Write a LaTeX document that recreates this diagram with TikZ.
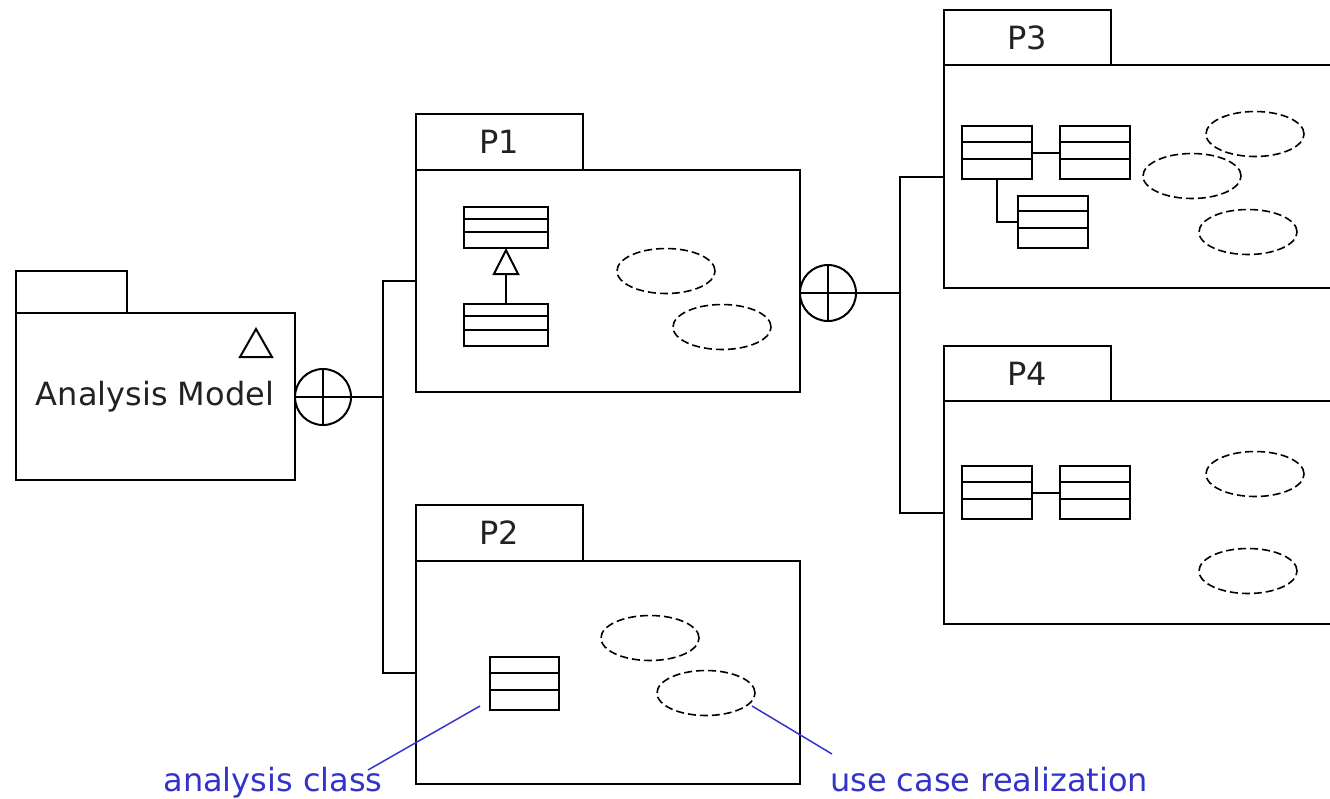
\documentclass[tikz,border=0pt]{standalone}
\usepackage{fontspec}
\setmainfont{DejaVu Sans}
\usetikzlibrary{shapes.geometric,arrows.meta,calc}
\definecolor{ink}{HTML}{222222}
\definecolor{note}{HTML}{3333CC}
\tikzset{
  pkgbody/.style={draw, line width=2pt, inner sep=0pt, outer sep=0pt, anchor=north west},
  pkgtab/.style={draw, line width=2pt, inner sep=0pt, outer sep=0pt, anchor=south west,
    minimum width=167pt, minimum height=56pt, text=ink, font=\fontsize{32}{38}\selectfont},
  clsbox/.style={draw, line width=2pt, inner sep=0pt, outer sep=0pt, anchor=north west,
    path picture={
      \draw[line width=2pt]
        ($(path picture bounding box.north west)!0.295!(path picture bounding box.south west)$) --
        ($(path picture bounding box.north east)!0.295!(path picture bounding box.south east)$);
      \draw[line width=2pt]
        ($(path picture bounding box.north west)!0.62!(path picture bounding box.south west)$) --
        ($(path picture bounding box.north east)!0.62!(path picture bounding box.south east)$);
    }},
  ucr/.style={ellipse, draw, dashed, dash pattern=on 8pt off 4pt, line width=1.6pt,
    minimum width=98pt, minimum height=45pt, inner sep=0pt},
  cplus/.style={circle, draw, line width=2pt, minimum size=56pt, inner sep=0pt, outer sep=0pt,
    path picture={
      \draw[line width=2pt] (path picture bounding box.north) -- (path picture bounding box.south);
      \draw[line width=2pt] (path picture bounding box.west) -- (path picture bounding box.east);
    }},
  wire/.style={line width=2pt},
  notewire/.style={draw=note, line width=1.5pt},
  notetext/.style={text=note, font=\fontsize{32}{38}\selectfont, inner sep=0pt, anchor=base}
}
\begin{document}
\begin{tikzpicture}[x=1pt, y=-1pt]
\useasboundingbox (0,0) rectangle (1330,798);
\clip (0,0) rectangle (1330,798);

% Analysis Model package
\node[pkgbody, minimum width=279pt, minimum height=167pt] (am) at (16,313) {};
\node[draw, line width=2pt, inner sep=0pt, outer sep=0pt, anchor=south west,
  minimum width=111pt, minimum height=42pt] (amtab) at (am.north west) {};
\node[text=ink, font=\fontsize{32}{38}\selectfont] (amlabel) at (155,397) {Analysis Model};
\draw[line width=2pt] (240,357) -- (256,329) -- (272,357) -- cycle;

% Packages P1 .. P4
\node[pkgbody, minimum width=384pt, minimum height=222pt] (p1) at (416,170) {};
\node[pkgtab] (p1tab) at (p1.north west) {P1};
\node[pkgbody, minimum width=384pt, minimum height=223pt] (p2) at (416,561) {};
\node[pkgtab] (p2tab) at (p2.north west) {P2};
\node[pkgbody, minimum width=420pt, minimum height=223pt] (p3) at (944,65) {};
\node[pkgtab, minimum height=55pt] (p3tab) at (p3.north west) {P3};
\node[pkgbody, minimum width=420pt, minimum height=223pt] (p4) at (944,401) {};
\node[pkgtab, minimum height=55pt] (p4tab) at (p4.north west) {P4};

% Containment symbols and their wiring
\node[cplus] (cp1) at (323,397) {};
\node[cplus] (cp2) at (828,293) {};
\coordinate (bus1) at (383,397);
\coordinate (bus2) at (900,293);
\draw[wire] (cp1.east) -- (bus1);
\draw[wire] (p1.west) -| (bus1) |- (p2.west);
\draw[wire] (cp2.east) -- (bus2);
\draw[wire] (p3.west) -| (bus2) |- (p4.west);

% P1 contents
\node[clsbox, minimum width=84pt, minimum height=41pt] (c1a) at (464,207) {};
\node[clsbox, minimum width=84pt, minimum height=42pt] (c1b) at (464,304) {};
\draw[wire, -{Triangle[open, length=27pt, width=27pt]}] (c1b.north) -- (c1a.south);
\node[ucr] (u1a) at (666,271) {};
\node[ucr] (u1b) at (722,327) {};

% P2 contents
\node[clsbox, minimum width=69pt, minimum height=53pt] (c2a) at (490,657) {};
\node[ucr] (u2a) at (650,638) {};
\node[ucr] (u2b) at (706,693) {};

% P3 contents
\node[clsbox, minimum width=70pt, minimum height=53pt] (c3a) at (962,126) {};
\node[clsbox, minimum width=70pt, minimum height=53pt] (c3b) at (1060,126) {};
\node[clsbox, minimum width=70pt, minimum height=52pt] (c3c) at (1018,196) {};
\draw[wire] (c3a.east) -- (c3b.west);
\draw[wire] (c3a.south) |- (c3c.west);
\node[ucr] (u3a) at (1255,134) {};
\node[ucr] (u3b) at (1192,176) {};
\node[ucr] (u3c) at (1248,232) {};

% P4 contents
\node[clsbox, minimum width=70pt, minimum height=53pt] (c4a) at (962,466) {};
\node[clsbox, minimum width=70pt, minimum height=53pt] (c4b) at (1060,466) {};
\draw[wire] (c4a.east) -- (c4b.west);
\node[ucr] (u4a) at (1255,474) {};
\node[ucr] (u4b) at (1248,571) {};

% Annotations
\node[notetext] (acl) at (273,791) {analysis class};
\node[notetext] (ucl) at (989,791) {use case realization};
\coordinate (acp) at (480,706);
\coordinate (acq) at (368,770);
\coordinate (ucp) at (752,706);
\coordinate (ucq) at (832,754);
\draw[notewire] (acp) -- (acq);
\draw[notewire] (ucp) -- (ucq);
\end{tikzpicture}
\end{document}
